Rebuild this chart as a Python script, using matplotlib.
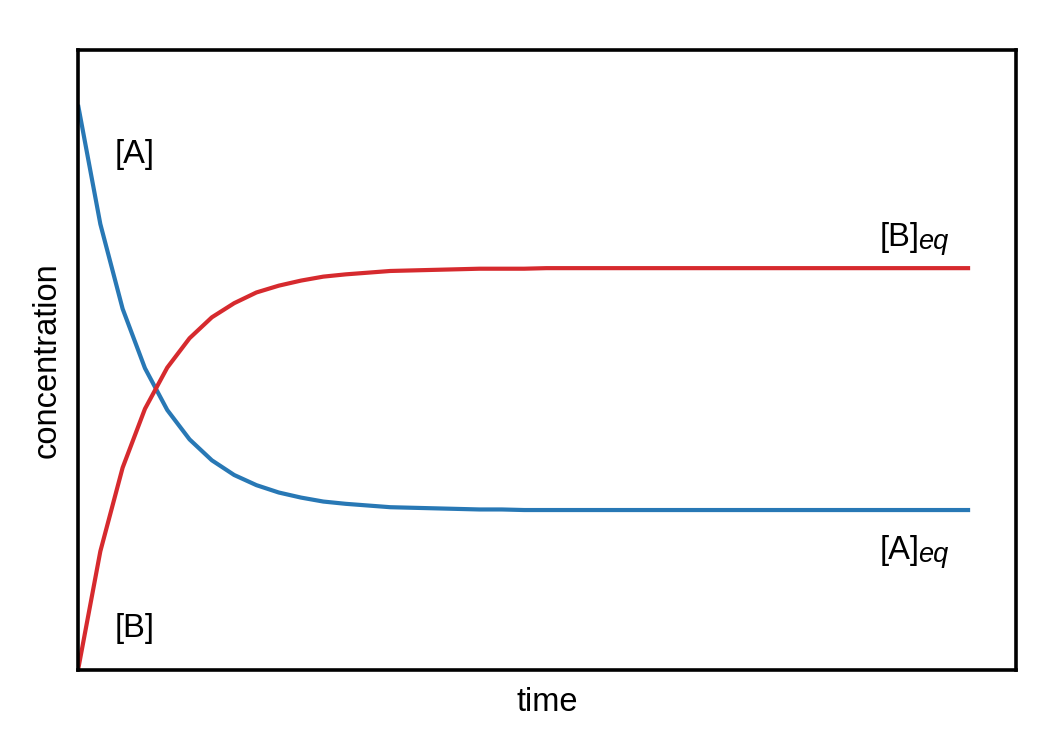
import matplotlib
matplotlib.use("Agg")
import matplotlib.pyplot as plt

plt.rcParams['font.family'] = ['Liberation Sans', 'DejaVu Sans']

# time steps
time = list(range(41))
# concentration of A (blue)
conc_A = [1.000, 0.789, 0.639, 0.534, 0.460, 0.408, 0.371, 0.345, 0.327, 0.314,
          0.305, 0.298, 0.294, 0.291, 0.288, 0.287, 0.286, 0.285, 0.284, 0.284,
          0.283, 0.283, 0.283, 0.283, 0.283, 0.283, 0.283, 0.283, 0.283, 0.283,
          0.283, 0.283, 0.283, 0.283, 0.283, 0.283, 0.283, 0.283, 0.283, 0.283,
          0.283]
# concentration of B (red)
conc_B = [0.000, 0.210, 0.358, 0.462, 0.535, 0.587, 0.624, 0.649, 0.668, 0.680,
          0.689, 0.696, 0.700, 0.703, 0.706, 0.707, 0.708, 0.709, 0.710, 0.710,
          0.710, 0.711, 0.711, 0.711, 0.711, 0.711, 0.711, 0.711, 0.711, 0.711,
          0.711, 0.711, 0.711, 0.711, 0.711, 0.711, 0.711, 0.711, 0.711, 0.711,
          0.711]

fig = plt.figure(figsize=(10.56, 7.44), dpi=100)
ax = fig.add_axes([0.0739, 0.0995, 0.8883, 0.8333])

ax.plot(time, conc_A, color='#2878b5', lw=3.0, solid_capstyle='butt')
ax.plot(time, conc_B, color='#d62a2e', lw=3.0, solid_capstyle='butt')

ax.set_xlim(0, 42.06)
ax.set_ylim(0, 1.097)
ax.set_xticks([])
ax.set_yticks([])
for s in ax.spines.values():
    s.set_linewidth(2.6)
    s.set_color('black')

fs = 23.5
fs_sub = 19.5
ax.text(1.66, 0.912, '[A]', fontsize=fs, ha='left', va='center')
ax.text(1.66, 0.074, '[B]', fontsize=fs, ha='left', va='center')
tB = ax.text(35.96, 0.766, '[B]', fontsize=fs, ha='left', va='center')
tA = ax.text(35.96, 0.212, '[A]', fontsize=fs, ha='left', va='center')
for t in (tB, tA):
    ax.annotate('eq', xy=(1, 0), xycoords=t, xytext=(-1.5, -1.5),
                textcoords='offset points', fontsize=fs_sub, style='italic',
                ha='left', va='bottom')

ax.set_xlabel('time', fontsize=fs, labelpad=12)
ax.set_ylabel('concentration', fontsize=fs, labelpad=11)

fig.savefig('out.png', dpi=100, facecolor='white')
